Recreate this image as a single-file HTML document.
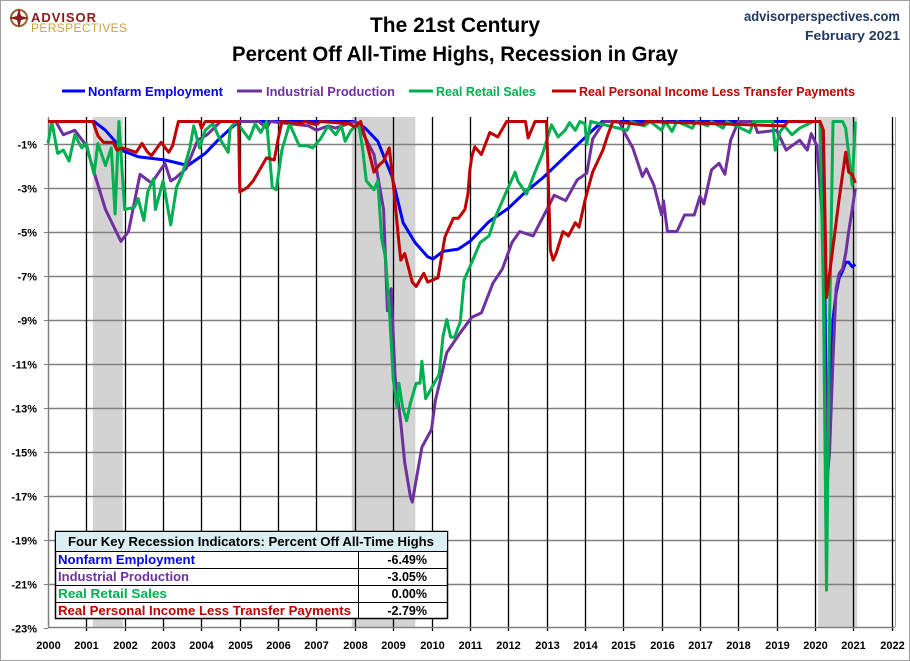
<!DOCTYPE html>
<html><head><meta charset="utf-8">
<style>
html,body{margin:0;padding:0;background:#fff;}
svg{display:block;font-family:"Liberation Sans",sans-serif;}
</style></head>
<body>
<svg id="chart" width="910" height="661" viewBox="0 0 910 661" xmlns="http://www.w3.org/2000/svg">
  <rect x="0.5" y="0.5" width="909" height="660" fill="#fff" stroke="#a0a0a0"/>
  <g>
    <circle cx="19" cy="18" r="8" fill="none" stroke="#9b5a2a" stroke-width="2"/>
    <path d="M19 8 L21 16 L29 18 L21 20 L19 28 L17 20 L9 18 L17 16 Z" fill="#8b1a1a"/>
    <text x="31" y="22" font-size="13" font-weight="bold" fill="#8b1a1a" textLength="65">ADVISOR</text>
    <text x="31" y="32" font-size="12" fill="#c8a040" textLength="96">PERSPECTIVES</text>
  </g>
  <text x="455" y="32" text-anchor="middle" font-size="21" font-weight="bold" fill="#000" textLength="170" lengthAdjust="spacingAndGlyphs">The 21st Century</text>
  <text x="455" y="61" text-anchor="middle" font-size="21" font-weight="bold" fill="#000" textLength="446" lengthAdjust="spacingAndGlyphs">Percent Off All-Time Highs, Recession in Gray</text>
  <text x="900" y="21" text-anchor="end" font-size="14" font-weight="bold" fill="#1f3864" textLength="156" lengthAdjust="spacingAndGlyphs">advisorperspectives.com</text>
  <text x="900" y="40" text-anchor="end" font-size="13" font-weight="bold" fill="#1f3864" textLength="95" lengthAdjust="spacingAndGlyphs">February 2021</text>
  <g font-size="13" font-weight="bold">
    <g><line x1="62" y1="91" x2="85" y2="91" stroke="#0000ff" stroke-width="3"/><text x="88" y="96" fill="#0000ff" textLength="135" lengthAdjust="spacingAndGlyphs">Nonfarm Employment</text></g>
    <g><line x1="237" y1="91" x2="262" y2="91" stroke="#7030a0" stroke-width="3"/><text x="266" y="96" fill="#7030a0" textLength="129" lengthAdjust="spacingAndGlyphs">Industrial Production</text></g>
    <g><line x1="409" y1="91" x2="433" y2="91" stroke="#00b050" stroke-width="3"/><text x="436" y="96" fill="#00b050" textLength="100" lengthAdjust="spacingAndGlyphs">Real Retail Sales</text></g>
    <g><line x1="552" y1="91" x2="576" y2="91" stroke="#c00000" stroke-width="3"/><text x="579" y="96" fill="#c00000" textLength="276" lengthAdjust="spacingAndGlyphs">Real Personal Income Less Transfer Payments</text></g>
  </g>
  <g id="plot"></g>
  <g font-size="12.5" font-weight="bold">
    <rect x="55.5" y="531.5" width="392" height="87" fill="#fff" stroke="#000" stroke-width="1.5"/>
    <rect x="56" y="532" width="391" height="19" fill="#dbeef3"/>
    <line x1="55.5" y1="551.5" x2="447.5" y2="551.5" stroke="#000"/>
    <line x1="55.5" y1="568.5" x2="447.5" y2="568.5" stroke="#000"/>
    <line x1="55.5" y1="585.5" x2="447.5" y2="585.5" stroke="#000"/>
    <line x1="55.5" y1="602.5" x2="447.5" y2="602.5" stroke="#000"/>
    <line x1="358.5" y1="551.5" x2="358.5" y2="618.5" stroke="#000"/>
    <text x="251" y="546" text-anchor="middle" fill="#000" textLength="366" lengthAdjust="spacingAndGlyphs">Four Key Recession Indicators: Percent Off All-Time Highs</text>
    <text x="58" y="564" fill="#0000ff" textLength="137" lengthAdjust="spacingAndGlyphs">Nonfarm Employment</text>
    <text x="427" y="564" text-anchor="end" fill="#000">-6.49%</text>
    <text x="58" y="581" fill="#7030a0" textLength="131" lengthAdjust="spacingAndGlyphs">Industrial Production</text>
    <text x="427" y="581" text-anchor="end" fill="#000">-3.05%</text>
    <text x="58" y="598" fill="#00b050" textLength="109" lengthAdjust="spacingAndGlyphs">Real Retail Sales</text>
    <text x="427" y="598" text-anchor="end" fill="#000">0.00%</text>
    <text x="58" y="615" fill="#c00000" textLength="293" lengthAdjust="spacingAndGlyphs">Real Personal Income Less Transfer Payments</text>
    <text x="427" y="615" text-anchor="end" fill="#000">-2.79%</text>
  </g>
</svg>
<script>
const yTicks = [-1,-3,-5,-7,-9,-11,-13,-15,-17,-19,-21,-23];
const years = [2000,2001,2002,2003,2004,2005,2006,2007,2008,2009,2010,2011,2012,2013,2014,2015,2016,2017,2018,2019,2020,2021,2022];
const recStart = [2001.17, 2007.92, 2020.08];
const recEnd = [2001.95, 2009.58, 2021.1];

const nfT = [2000,2001.2,2001.5,2001.75,2001.9,2002.35,2003.05,2003.65,2004.1,2004.43,2004.8,2005.0,2008.0,2008.27,2008.6,2008.97,2009.26,2009.57,2009.9,2010.04,2010.3,2010.7,2011.0,2011.5,2012.0,2012.45,2012.9,2013.3,2013.75,2014.2,2014.45,2020.13,2020.22,2020.30,2020.38,2020.47,2020.55,2020.63,2020.72,2020.80,2020.88,2020.97,2021.05];
const nfV = [0,0,-0.4,-0.9,-1.3,-1.6,-1.75,-2.0,-1.45,-0.85,-0.25,0,0,-0.3,-0.9,-2.5,-4.6,-5.5,-6.15,-6.25,-5.9,-5.8,-5.45,-4.55,-3.95,-3.2,-2.57,-1.9,-1.15,-0.4,0,0,-0.9,-14.7,-13.0,-9.0,-7.8,-7.1,-6.8,-6.4,-6.4,-6.6,-6.49];

const ipT = [2000,2000.2,2000.4,2000.7,2001.0,2001.2,2001.5,2001.9,2002.1,2002.4,2002.7,2003.05,2003.2,2003.3,2003.6,2003.9,2004.15,2004.5,2005.5,2005.7,2005.8,2006.8,2007.0,2007.3,2007.5,2008.0,2008.2,2008.5,2008.75,2008.85,2008.95,2009.05,2009.2,2009.3,2009.45,2009.5,2009.75,2010.0,2010.1,2010.4,2010.75,2011.05,2011.3,2011.6,2011.85,2012.1,2012.3,2012.65,2012.95,2013.2,2013.5,2013.8,2014.05,2014.2,2014.5,2014.9,2015.0,2015.25,2015.5,2015.6,2015.8,2016.0,2016.05,2016.15,2016.4,2016.6,2016.85,2017.0,2017.1,2017.3,2017.5,2017.65,2017.8,2018.0,2018.4,2018.5,2019.0,2019.25,2019.4,2019.6,2019.8,2019.9,2020.05,2020.22,2020.30,2020.38,2020.47,2020.55,2020.63,2020.72,2020.80,2020.88,2020.97,2021.05];
const ipV = [0,0,-0.6,-0.4,-1.1,-2.3,-4.0,-5.45,-5.0,-2.4,-2.8,-1.9,-2.7,-2.6,-2.15,-0.85,-0.6,0,0,-0.3,0,-0.2,-0.4,-0.2,-0.3,0,-0.5,-1.5,-4.0,-8.6,-7.6,-11.6,-13.7,-15.5,-17.05,-17.3,-14.8,-14.0,-12.7,-10.5,-9.6,-8.9,-8.7,-7.35,-6.7,-5.5,-5.0,-5.2,-4.2,-3.35,-3.6,-2.65,-2.35,-0.8,0,0,-0.4,-1.2,-2.5,-2.15,-2.9,-4.25,-3.6,-5.0,-5.0,-4.25,-4.25,-3.4,-3.75,-2.2,-1.9,-2.4,-0.85,0,0,-0.5,-0.4,-1.3,-1.1,-0.85,-1.3,-0.55,-1.1,-5.0,-16.7,-15.0,-10.8,-7.6,-6.9,-6.7,-6.0,-5.0,-4.0,-3.05];

const rsT = [2000,2000.1,2000.25,2000.4,2000.55,2000.7,2000.88,2001.0,2001.2,2001.3,2001.5,2001.65,2001.75,2001.85,2002.0,2002.25,2002.35,2002.5,2002.6,2002.75,2002.8,2003.0,2003.2,2003.35,2003.5,2003.7,2003.8,2003.95,2004.1,2004.3,2004.45,2004.7,2004.75,2004.9,2005.25,2005.4,2005.55,2005.7,2005.85,2005.95,2006.1,2006.3,2006.55,2006.75,2006.9,2007.1,2007.3,2007.5,2007.65,2007.75,2007.9,2008.1,2008.2,2008.3,2008.5,2008.6,2008.7,2008.8,2008.9,2009.0,2009.1,2009.15,2009.25,2009.35,2009.45,2009.6,2009.7,2009.75,2009.85,2010.1,2010.2,2010.3,2010.4,2010.5,2010.6,2010.75,2010.85,2011.0,2011.27,2011.5,2011.65,2011.95,2012.18,2012.25,2012.48,2012.7,2012.9,2013.13,2013.3,2013.48,2013.6,2013.75,2013.87,2014.0,2014.05,2014.15,2015.1,2015.2,2015.55,2015.7,2016.0,2016.1,2016.27,2016.4,2016.8,2016.9,2017.2,2017.3,2017.6,2017.7,2018.3,2018.4,2018.9,2018.96,2019.08,2019.2,2019.4,2019.6,2019.95,2020.13,2020.22,2020.30,2020.38,2020.47,2020.55,2020.63,2020.72,2020.80,2020.88,2020.97,2021.05];
const rsV = [-1.0,0,-1.45,-1.3,-1.8,-0.6,-1.2,-1.0,-2.4,-1.0,-2.0,-1.2,-4.2,0,-4.0,-3.9,-3.5,-4.5,-3.2,-2.6,-4.0,-2.7,-4.7,-3.0,-2.4,-1.2,-0.2,-1.2,-0.4,-0.1,-0.7,-1.4,-0.3,0,-0.8,-0.1,-0.5,0,-3.0,-3.1,-1.3,-0.1,-1.1,-1.1,-1.2,-0.8,-0.2,-0.6,-0.2,-0.9,-0.4,-0.1,-1.2,-2.7,-3.1,-2.7,-5.3,-6.2,-8.5,-11.7,-13.0,-11.9,-13.0,-13.6,-12.8,-11.9,-11.9,-10.9,-12.6,-11.8,-11.5,-9.75,-9.0,-9.8,-9.8,-9.1,-7.2,-6.6,-5.5,-5.2,-4.4,-3.2,-2.3,-2.7,-3.3,-2.3,-1.45,-0.15,-0.7,-0.4,-0.05,-0.4,0,-0.1,-1.05,0,-0.4,0,-0.2,0,-0.4,0,-0.45,0,-0.3,0,-0.2,0,-0.3,0,-0.5,0,0,-1.3,-0.5,-0.2,-0.6,-0.3,0,0,-7.8,-21.3,-9.0,0,0,0,0,-0.3,-1.5,-2.9,0];

const riT = [2000,2001.17,2001.3,2001.45,2001.7,2001.8,2001.95,2002.3,2002.45,2002.6,2002.7,2002.95,2003.15,2003.25,2003.4,2003.95,2004.0,2004.1,2004.97,2005.0,2005.2,2005.35,2005.55,2005.7,2005.9,2006.0,2006.1,2006.6,2006.7,2007.0,2007.1,2007.85,2008.0,2008.15,2008.3,2008.5,2008.65,2008.75,2008.9,2009.0,2009.15,2009.2,2009.3,2009.5,2009.6,2009.8,2009.9,2010.17,2010.35,2010.57,2010.7,2010.87,2010.95,2011.0,2011.05,2011.13,2011.3,2011.52,2011.73,2011.96,2012.45,2012.52,2012.7,2013.0,2013.1,2013.17,2013.25,2013.43,2013.57,2013.75,2013.85,2014.0,2014.2,2014.47,2014.6,2014.73,2015.5,2015.6,2019.2,2019.3,2020.13,2020.22,2020.30,2020.38,2020.47,2020.55,2020.63,2020.72,2020.80,2020.88,2020.97,2021.05];
const riV = [0,0,-0.65,-0.95,-0.95,-1.3,-1.2,-1.4,-1.0,-1.4,-1.55,-0.95,-1.4,-1.1,0,0,-0.3,0,0,-3.2,-3.0,-2.7,-2.1,-1.65,-1.75,-0.8,0,-0.1,0,-0.15,0,-0.1,-0.25,0,-0.9,-2.3,-1.95,-1.8,-1.2,-2.8,-5.5,-6.3,-6.0,-7.3,-7.5,-6.9,-7.3,-7.1,-5.25,-4.4,-4.4,-4.0,-3.3,-2.2,-1.6,-1.15,-1.5,-0.5,-0.7,0,0,-0.75,0,0,-5.85,-6.3,-6.0,-5.0,-5.2,-4.6,-4.8,-3.6,-2.3,-1.3,-0.6,0,-0.15,0,-0.2,0,0,-0.4,-8.0,-6.9,-5.7,-4.6,-3.5,-2.4,-1.4,-2.3,-2.4,-2.79];

const NS = "http://www.w3.org/2000/svg";
const X0 = 48, XS = 38.35, Y0 = 121.5, YS = 22, PLOT_R = 895, PLOT_T = 117, PLOT_B = 627;
function xScale(t){ return X0 + XS * (t - 2000); }
function yScale(v){ return Y0 - YS * v; }
const plot = document.getElementById('plot');
function mk(tag, attrs, parent){
  const e = document.createElementNS(NS, tag);
  for (const k in attrs) e.setAttribute(k, attrs[k]);
  (parent || plot).appendChild(e);
  return e;
}
// recessions
for (let i = 0; i < recStart.length; i++) {
  const r = mk('rect', {x: xScale(recStart[i]), y: PLOT_T, width: xScale(recEnd[i]) - xScale(recStart[i]), height: PLOT_B - PLOT_T, fill: '#d3d3d3'});
  
  
}
// horizontal gridlines + y labels
yTicks.forEach(v => {
  const y = Math.round(yScale(v)) + 0.5;
  if (v > -23) {
    const g = mk('line', {x1: X0, x2: PLOT_R, y1: y, y2: y, stroke: '#808080', 'stroke-width': 1.5});
    
    
  }
  mk('line', {x1: X0 - 4, x2: X0, y1: y, y2: y, stroke: '#808080'});
  const t = mk('text', {x: 37, y: y + 4, 'text-anchor': 'end', 'font-size': 11, 'font-weight': 'bold', fill: '#000'});
  t.textContent = v + '%';
  
  
});
// vertical gridlines + x labels
years.forEach(yr => {
  const x = Math.round(xScale(yr)) + 0.5;
  if (yr > 2000) {
    const g = mk('line', {x1: x, x2: x, y1: PLOT_T, y2: PLOT_B + 4, stroke: '#000', 'stroke-width': 1.3});
    
    
  }
  const t = mk('text', {x: x, y: 649, 'text-anchor': 'middle', 'font-size': 11, 'font-weight': 'bold', fill: '#000'});
  t.textContent = yr;
  
  
});
// axes
const ax1 = mk('line', {x1: X0 + 0.5, x2: X0 + 0.5, y1: PLOT_T, y2: PLOT_B, stroke: '#808080', 'stroke-width': 1.5});


const ax2 = mk('line', {x1: X0, x2: PLOT_R, y1: PLOT_B + 0.5, y2: PLOT_B + 0.5, stroke: '#808080', 'stroke-width': 1.5});


const ax3 = mk('line', {x1: PLOT_R + 0.5, x2: PLOT_R + 0.5, y1: PLOT_T, y2: PLOT_B, stroke: '#a0a0a0', 'stroke-width': 1});


// series
function series(ts, vs, color, name){
  let d = '';
  for (let i = 0; i < ts.length; i++) d += (i ? 'L' : 'M') + xScale(ts[i]).toFixed(1) + ' ' + yScale(vs[i]).toFixed(1);
  const p = mk('path', {d: d, fill: 'none', stroke: color, 'stroke-width': 3, 'stroke-linejoin': 'round'});
  
  
}
series(nfT, nfV, '#0000ff', 'line-nonfarm-employment');
series(ipT, ipV, '#7030a0', 'line-industrial-production');
series(rsT, rsV, '#00b050', 'line-real-retail-sales');
series(riT, riV, '#c00000', 'line-real-personal-income');
</script>
</body></html>
